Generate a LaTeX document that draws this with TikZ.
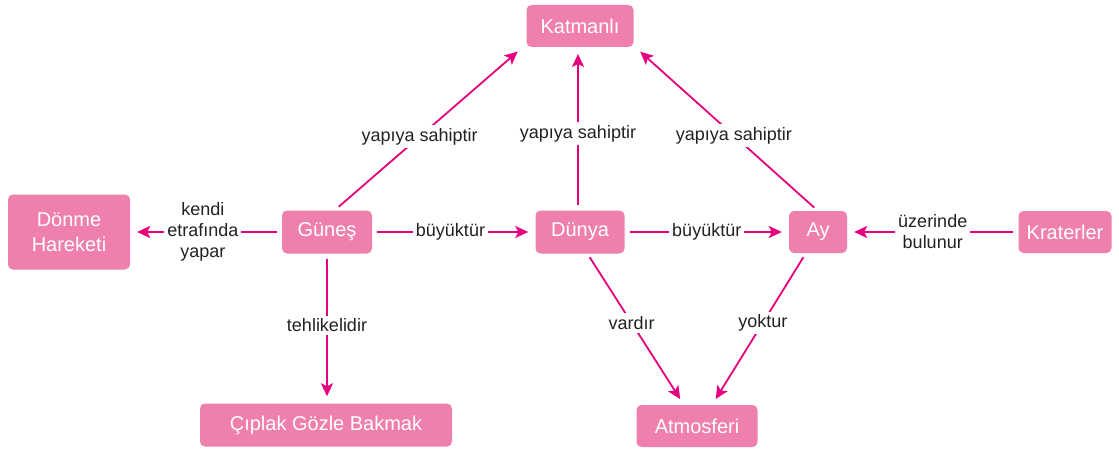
\documentclass[tikz,border=0pt]{standalone}
\usepackage{fontspec}
\setmainfont{Liberation Sans}
\usetikzlibrary{arrows.meta}
\definecolor{boxpink}{HTML}{EF80AE}
\definecolor{arrowpink}{HTML}{E6007E}
\definecolor{labeltext}{HTML}{222222}
\tikzset{
  conceptbox/.style={fill=boxpink, text=white, rounded corners=5pt, align=center,
    inner sep=0pt, font=\fontsize{20}{25}\selectfont},
  link/.style={draw=arrowpink, line width=1.8pt, -{Stealth[length=13pt,width=12pt,inset=3pt]},
    shorten >=7pt, shorten <=5pt},
  linklabel/.style={fill=white, text=labeltext, align=center, inner sep=3pt,
    font=\fontsize{18}{21}\selectfont}
}
\begin{document}
\begin{tikzpicture}[x=1pt,y=-1pt]
\useasboundingbox (0,0) rectangle (1119,452);
\node[conceptbox, minimum width=107pt, minimum height=42pt] (katmanli) at (580,26) {Katmanlı};
\node[conceptbox, minimum width=122pt, minimum height=75pt] (donme) at (69,232) {Dönme\\Hareketi};
\node[conceptbox, minimum width=90pt, minimum height=43pt] (gunes) at (327,232) {Güneş};
\node[conceptbox, minimum width=89pt, minimum height=43pt] (dunya) at (580,232) {Dünya};
\node[conceptbox, minimum width=58pt, minimum height=42pt] (ay) at (818,232) {Ay};
\node[conceptbox, minimum width=93pt, minimum height=42pt] (krater) at (1065,232) {Kraterler};
\node[conceptbox, minimum width=252pt, minimum height=43pt] (ciplak) at (326,425) {Çıplak Gözle Bakmak};
\node[conceptbox, minimum width=121pt, minimum height=42pt] (atmos) at (697,426) {Atmosferi};

\coordinate (gunesTop) at (335,210);
\coordinate (katL) at (523,47);
\coordinate (katM) at (578,47);
\coordinate (katR) at (635,47);
\coordinate (ayTop) at (818,211);
\coordinate (dunyaTop) at (578,210);

\draw[link] (gunesTop) -- node[linklabel, pos=0.45] {yapıya sahiptir} (katL);
\draw[link] (dunyaTop) -- node[linklabel, pos=0.47] {yapıya sahiptir} (katM);
\draw[link] (ayTop) -- node[linklabel, pos=0.46] {yapıya sahiptir} (katR);

\draw[link] (gunes.west) -- node[linklabel, pos=0.52] {kendi\\etrafında\\yapar} (donme.east);
\draw[link] (gunes.east) -- node[linklabel, pos=0.48] {büyüktür} (dunya.west);
\draw[link] (dunya.east) -- node[linklabel, pos=0.5] {büyüktür} (ay.west);
\draw[link] (krater.west) -- node[linklabel, pos=0.5] {üzerinde\\bulunur} (ay.east);

\draw[link] (gunes.south) -- node[linklabel, pos=0.48] {tehlikelidir} (gunes.south |- ciplak.north);
\coordinate (dunyaBot) at (587,253);
\coordinate (ayBot) at (806,253);
\coordinate (atL) at (684,405);
\coordinate (atR) at (712,405);
\draw[link] (dunyaBot) -- node[linklabel, pos=0.46] {vardır} (atL);
\draw[link] (ayBot) -- node[linklabel, pos=0.46] {yoktur} (atR);
\end{tikzpicture}
\end{document}
